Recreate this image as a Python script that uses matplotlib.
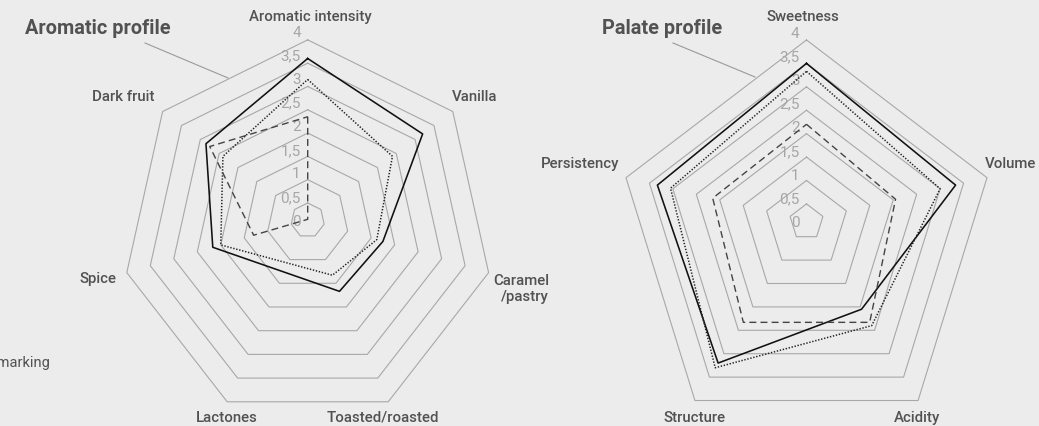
import numpy as np
import matplotlib
matplotlib.use("Agg")
import matplotlib.pyplot as plt

W, H = 1039, 426
BG = "#ececec"
INK = "#525252"
GRID = "#a8a8a8"
TICK_INK = "#a6a6a6"
plt.rcParams["font.family"] = ["Roboto", "DejaVu Sans"]

# --- data ---
aroma_axes = ["Aromatic intensity", "Vanilla", "Caramel\n/pastry", "Toasted/roasted",
              "Lactones", "Spice", "Dark fruit"]
aroma_solid = [3.6, 3.2, 1.75, 1.67, None, 2.17, 2.85]
aroma_dotted = [3.15, 2.4, 1.62, 1.33, None, 2.0, 2.4]
aroma_dashed = [2.35, 0, 0, 0, 0, 1.3, 2.75]

palate_axes = ["Sweetness", "Volume", "Acidity", "Structure", "Persistency"]
palate_solid = [3.5, 3.33, 2.05, 3.2, 3.33]
palate_dotted = [3.33, 3.0, 2.4, 3.3, 3.05]
palate_dashed = [2.2, 2.05, 2.33, 2.33, 2.15]

ring_levels = [0.5, 1, 1.5, 2, 2.5, 3, 3.5, 4]
tick_values = [0, 0.5, 1, 1.5, 2, 2.5, 3, 3.5, 4]
tick_labels = ["0", "0,5", "1", "1,5", "2", "2,5", "3", "3,5", "4"]

SERIES_STYLE = [
    dict(color="#111111", lw=1.15, ls="-"),
    dict(color="#222222", lw=1.1, ls=(0, (0.9, 1.1))),
    dict(color="#444444", lw=1.0, ls=(0, (5, 3))),
]


def radar_xy(values, n, v0, stretch, sag):
    """value per spoke -> radar units; the source drawing sags a bit downward
    as the radius grows, so `sag` shifts every point down with its radius."""
    ang = np.pi / 2 - 2 * np.pi * np.arange(n) / n
    v = np.array([np.nan if x is None else x for x in values], dtype=float)
    rho = np.clip(v - v0, 0, None)
    x = rho * np.cos(ang)
    y = rho * (stretch * np.sin(ang) - sag)
    keep = ~np.isnan(v)
    x, y = x[keep], y[keep]
    return np.append(x, x[0]), np.append(y, y[0])


def draw_radar(fig, cx, cy, unit, stretch, sag, n, series):
    ax = fig.add_axes([0, 0, 1, 1])
    ax.set_xlim(-cx / unit, (W - cx) / unit)
    ax.set_ylim(-(H - cy) / unit, cy / unit)
    ax.axis("off")
    ax.patch.set_alpha(0)
    v0 = 0.15
    for lev in ring_levels:
        x, y = radar_xy([lev] * n, n, v0, stretch, sag)
        ax.plot(x, y, color=GRID, lw=0.8, zorder=1)
    for val, lab in zip(tick_values, tick_labels):
        ax.text(-7.0 / unit, (47.2 * val - 2.4) / unit, lab, ha="right", va="center",
                fontsize=11, color=TICK_INK, zorder=2)
    for vals, st in zip(series, SERIES_STYLE):
        x, y = radar_xy(vals, n, v0, stretch, sag)
        ax.plot(x, y, color=st["color"], lw=st["lw"], linestyle=st["ls"], zorder=3)
    return ax


fig = plt.figure(figsize=(W / 100, H / 100), dpi=100, facecolor=BG)

draw_radar(fig, 307.7, 219.3, 48.2, 1.026, 0.059, len(aroma_axes),
           [aroma_solid, aroma_dotted, aroma_dashed])
draw_radar(fig, 806.5, 220.3, 49.3, 1.05, 0.10, len(palate_axes),
           [palate_solid, palate_dotted, palate_dashed])

# text / annotation layer in pixel coordinates
cv = fig.add_axes([0, 0, 1, 1])
cv.set_xlim(0, W)
cv.set_ylim(H, 0)
cv.axis("off")
cv.patch.set_alpha(0)

aroma_label_pos = [(310, 17), (475, 97), (521, 289), (383, 418), (227, 418), (98, 279), (123, 97)]
palate_label_pos = [(803, 17), (1011, 164), (917, 418), (695, 418), (580, 164)]
for lab, (x, y) in zip(aroma_axes + palate_axes, aroma_label_pos + palate_label_pos):
    cv.text(x, y, lab, ha="center", va="center", fontsize=10.8, color=INK,
            fontweight="medium", linespacing=1.15, multialignment="right")

cv.text(25, 28, "Aromatic profile", ha="left", va="center", fontsize=14.3,
        fontweight="bold", color=INK)
cv.text(602, 28, "Palate profile", ha="left", va="center", fontsize=14.3,
        fontweight="bold", color=INK)
cv.plot([145, 228], [43, 78], color="#9a9a9a", lw=0.8)
cv.plot([673, 755], [43, 77], color="#9a9a9a", lw=0.8)

# legend text that the reference crops at the left edge
cv.text(51, 363, "Benchmarking", ha="right", va="center", fontsize=10.5, color=INK)

fig.savefig("out.png", dpi=100, facecolor=BG)
